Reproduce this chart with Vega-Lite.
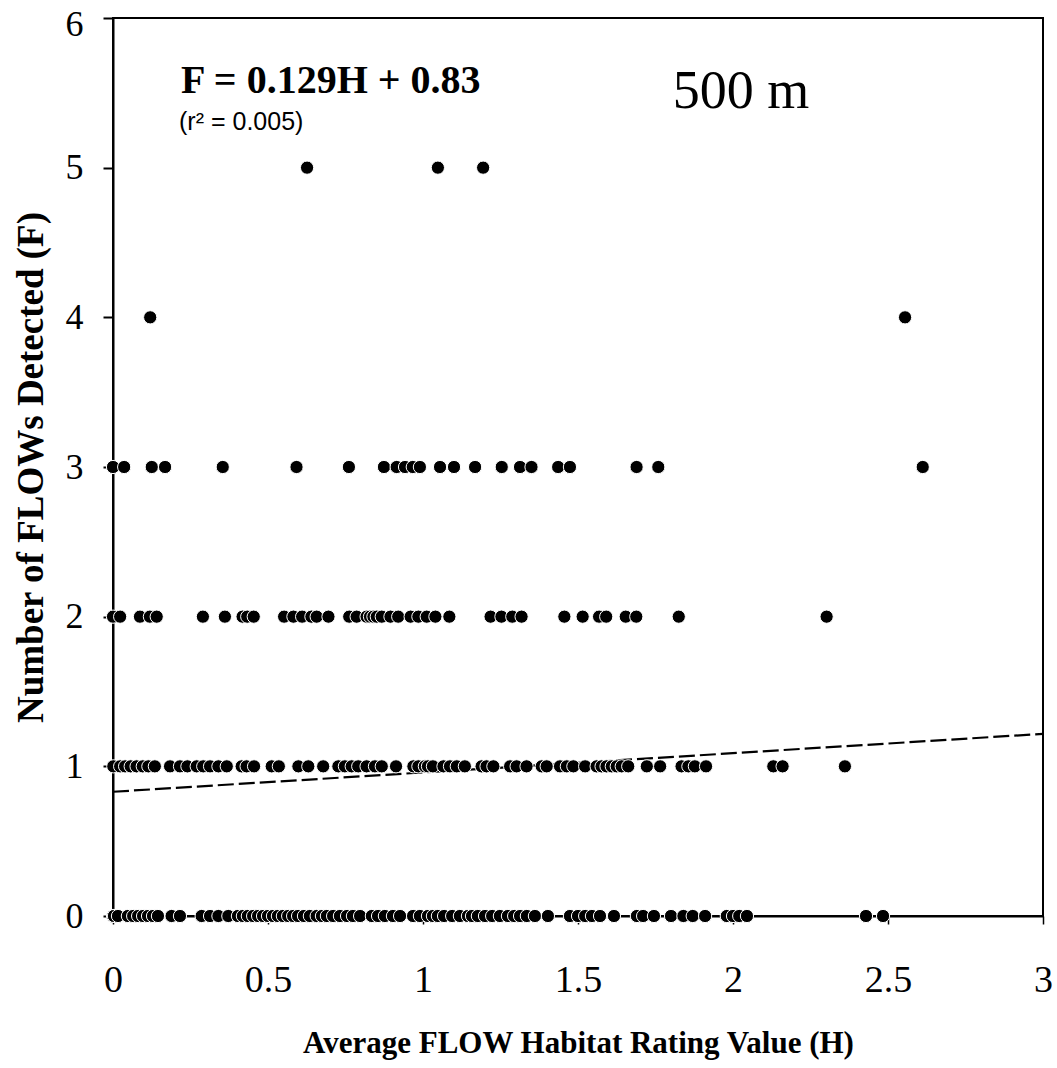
{
  "$schema": "https://vega.github.io/schema/vega-lite/v6.json",
  "width": 930,
  "height": 898,
  "autosize": "none",
  "padding": {"left": 113, "top": 18, "right": 14, "bottom": 152},
  "background": "white",
  "config": {
    "view": {"stroke": "black", "strokeWidth": 2},
    "font": "Liberation Serif"
  },
  "datasets": {
    "pts": [
      {"H":0,"F":0},{"H":0.003,"F":0},{"H":0.016,"F":0},{"H":0.048,"F":0},{"H":0.065,"F":0},{"H":0.081,"F":0},{"H":0.097,"F":0},{"H":0.113,"F":0},{"H":0.129,"F":0},{"H":0.145,"F":0},{"H":0.189,"F":0},{"H":0.216,"F":0},
      {"H":0.286,"F":0},{"H":0.313,"F":0},{"H":0.340,"F":0},{"H":0.372,"F":0},
      {"H":0.403,"F":0},{"H":0.419,"F":0},{"H":0.435,"F":0},{"H":0.452,"F":0},{"H":0.468,"F":0},{"H":0.484,"F":0},{"H":0.5,"F":0},{"H":0.516,"F":0},{"H":0.532,"F":0},{"H":0.548,"F":0},{"H":0.565,"F":0},{"H":0.581,"F":0},{"H":0.597,"F":0},{"H":0.616,"F":0},{"H":0.635,"F":0},
      {"H":0.657,"F":0},{"H":0.674,"F":0},{"H":0.690,"F":0},{"H":0.710,"F":0},{"H":0.732,"F":0},{"H":0.755,"F":0},{"H":0.774,"F":0},{"H":0.797,"F":0},
      {"H":0.835,"F":0},{"H":0.855,"F":0},{"H":0.877,"F":0},{"H":0.903,"F":0},{"H":0.926,"F":0},
      {"H":0.968,"F":0},{"H":0.990,"F":0},{"H":1.016,"F":0},{"H":1.032,"F":0},{"H":1.048,"F":0},{"H":1.068,"F":0},{"H":1.094,"F":0},{"H":1.119,"F":0},{"H":1.145,"F":0},{"H":1.158,"F":0},{"H":1.177,"F":0},{"H":1.2,"F":0},{"H":1.223,"F":0},{"H":1.248,"F":0},{"H":1.274,"F":0},{"H":1.294,"F":0},{"H":1.313,"F":0},{"H":1.335,"F":0},{"H":1.361,"F":0},{"H":1.403,"F":0},
      {"H":1.474,"F":0},{"H":1.5,"F":0},{"H":1.523,"F":0},{"H":1.545,"F":0},{"H":1.571,"F":0},{"H":1.616,"F":0},
      {"H":1.69,"F":0},{"H":1.71,"F":0},{"H":1.745,"F":0},
      {"H":1.80,"F":0},{"H":1.84,"F":0},{"H":1.87,"F":0},{"H":1.91,"F":0},
      {"H":1.98,"F":0},{"H":2.0,"F":0},{"H":2.02,"F":0},{"H":2.045,"F":0},
      {"H":2.429,"F":0},{"H":2.484,"F":0},

      {"H":0.001,"F":1},{"H":0.023,"F":1},{"H":0.039,"F":1},{"H":0.057,"F":1},{"H":0.076,"F":1},{"H":0.096,"F":1},{"H":0.114,"F":1},{"H":0.135,"F":1},{"H":0.184,"F":1},{"H":0.216,"F":1},{"H":0.240,"F":1},{"H":0.270,"F":1},{"H":0.291,"F":1},{"H":0.313,"F":1},{"H":0.340,"F":1},{"H":0.367,"F":1},{"H":0.415,"F":1},{"H":0.431,"F":1},{"H":0.455,"F":1},{"H":0.512,"F":1},{"H":0.535,"F":1},{"H":0.598,"F":1},{"H":0.630,"F":1},{"H":0.678,"F":1},{"H":0.727,"F":1},{"H":0.748,"F":1},{"H":0.770,"F":1},{"H":0.791,"F":1},{"H":0.818,"F":1},{"H":0.845,"F":1},{"H":0.867,"F":1},{"H":0.913,"F":1},{"H":0.969,"F":1},{"H":0.985,"F":1},{"H":1.006,"F":1},{"H":1.016,"F":1},{"H":1.032,"F":1},{"H":1.066,"F":1},{"H":1.087,"F":1},{"H":1.109,"F":1},{"H":1.135,"F":1},{"H":1.189,"F":1},{"H":1.205,"F":1},{"H":1.227,"F":1},{"H":1.281,"F":1},{"H":1.302,"F":1},{"H":1.334,"F":1},{"H":1.383,"F":1},{"H":1.399,"F":1},{"H":1.442,"F":1},{"H":1.464,"F":1},{"H":1.485,"F":1},{"H":1.523,"F":1},{"H":1.560,"F":1},{"H":1.576,"F":1},{"H":1.592,"F":1},{"H":1.609,"F":1},{"H":1.625,"F":1},{"H":1.641,"F":1},{"H":1.662,"F":1},{"H":1.722,"F":1},{"H":1.765,"F":1},{"H":1.834,"F":1},{"H":1.856,"F":1},{"H":1.877,"F":1},{"H":1.913,"F":1},{"H":2.130,"F":1},{"H":2.160,"F":1},{"H":2.361,"F":1},

      {"H":0,"F":2},{"H":0.023,"F":2},{"H":0.087,"F":2},{"H":0.119,"F":2},{"H":0.141,"F":2},{"H":0.290,"F":2},{"H":0.361,"F":2},{"H":0.418,"F":2},{"H":0.433,"F":2},{"H":0.454,"F":2},{"H":0.552,"F":2},{"H":0.582,"F":2},{"H":0.610,"F":2},{"H":0.640,"F":2},{"H":0.657,"F":2},{"H":0.695,"F":2},{"H":0.762,"F":2},{"H":0.786,"F":2},{"H":0.818,"F":2},{"H":0.829,"F":2},{"H":0.840,"F":2},{"H":0.851,"F":2},{"H":0.867,"F":2},{"H":0.895,"F":2},{"H":0.920,"F":2},{"H":0.960,"F":2},{"H":0.985,"F":2},{"H":1.012,"F":2},{"H":1.040,"F":2},{"H":1.085,"F":2},{"H":1.218,"F":2},{"H":1.253,"F":2},{"H":1.288,"F":2},{"H":1.318,"F":2},{"H":1.456,"F":2},{"H":1.515,"F":2},{"H":1.568,"F":2},{"H":1.591,"F":2},{"H":1.654,"F":2},{"H":1.688,"F":2},{"H":1.825,"F":2},{"H":2.302,"F":2},

      {"H":0,"F":3},{"H":0.036,"F":3},{"H":0.125,"F":3},{"H":0.168,"F":3},{"H":0.354,"F":3},{"H":0.592,"F":3},{"H":0.761,"F":3},{"H":0.874,"F":3},{"H":0.915,"F":3},{"H":0.942,"F":3},{"H":0.967,"F":3},{"H":0.99,"F":3},{"H":1.055,"F":3},{"H":1.1,"F":3},{"H":1.168,"F":3},{"H":1.254,"F":3},{"H":1.313,"F":3},{"H":1.35,"F":3},{"H":1.436,"F":3},{"H":1.474,"F":3},{"H":1.689,"F":3},{"H":1.759,"F":3},{"H":2.612,"F":3},

      {"H":0.12,"F":4},{"H":2.555,"F":4},

      {"H":0.626,"F":5},{"H":1.048,"F":5},{"H":1.194,"F":5}
    ],
    "fit": [{"H":0,"F":0.83},{"H":3,"F":1.217}],
    "one": [{}]
  },
  "layer": [
    {
      "data": {"name": "fit"},
      "mark": {"type": "line", "color": "black", "strokeWidth": 2.2, "strokeDash": [16, 5]},
      "encoding": {
        "x": {"field": "H", "type": "quantitative"},
        "y": {"field": "F", "type": "quantitative"}
      }
    },
    {
      "data": {"name": "pts"},
      "mark": {"type": "circle", "size": 175, "fill": "black", "stroke": "white", "strokeWidth": 1, "opacity": 1},
      "encoding": {
        "x": {
          "field": "H", "type": "quantitative",
          "scale": {"domain": [0, 3], "nice": false, "zero": false},
          "axis": {
            "title": "Average FLOW Habitat Rating Value (H)",
            "values": [0, 0.5, 1, 1.5, 2, 2.5, 3],
            "format": "~g",
            "grid": false,
            "labelFlush": false,
            "labelOverlap": false,
            "domainColor": "black", "domainWidth": 2,
            "tickColor": "black", "tickSize": 8, "tickWidth": 1.5,
            "labelFont": "Liberation Serif", "labelFontSize": 38, "labelColor": "black", "labelPadding": 37,
            "titleFont": "Liberation Serif", "titleFontSize": 31, "titleFontWeight": "bold", "titleColor": "black", "titlePadding": 29
          }
        },
        "y": {
          "field": "F", "type": "quantitative",
          "scale": {"domain": [0, 6], "nice": false, "zero": false},
          "axis": {
            "title": "Number of FLOWs Detected (F)",
            "values": [0, 1, 2, 3, 4, 5, 6],
            "format": "d",
            "grid": false,
            "labelFlush": false,
            "labelOverlap": false,
            "labelOffset": {"condition": {"test": "datum.value == 6", "value": 6}, "value": 0},
            "domainColor": "black", "domainWidth": 2,
            "tickColor": "black", "tickSize": 10, "tickWidth": 2,
            "labelFont": "Liberation Serif", "labelFontSize": 36, "labelColor": "black", "labelPadding": 20,
            "titleFont": "Liberation Serif", "titleFontSize": 37, "titleFontWeight": "bold", "titleColor": "black", "titlePadding": 15
          }
        }
      }
    },
    {
      "data": {"name": "one"},
      "mark": {"type": "text", "text": "F = 0.129H + 0.83", "font": "Liberation Serif", "fontSize": 40, "fontWeight": "bold", "align": "left", "baseline": "alphabetic", "color": "black"},
      "encoding": {"x": {"datum": 0.219}, "y": {"datum": 5.5}}
    },
    {
      "data": {"name": "one"},
      "mark": {"type": "text", "text": "(r² = 0.005)", "font": "Liberation Sans", "fontSize": 25, "align": "left", "baseline": "alphabetic", "color": "black"},
      "encoding": {"x": {"datum": 0.213}, "y": {"datum": 5.25}}
    },
    {
      "data": {"name": "one"},
      "mark": {"type": "text", "text": "500 m", "font": "Liberation Serif", "fontSize": 54, "align": "left", "baseline": "alphabetic", "color": "black"},
      "encoding": {"x": {"datum": 1.806}, "y": {"datum": 5.4}}
    }
  ]
}
